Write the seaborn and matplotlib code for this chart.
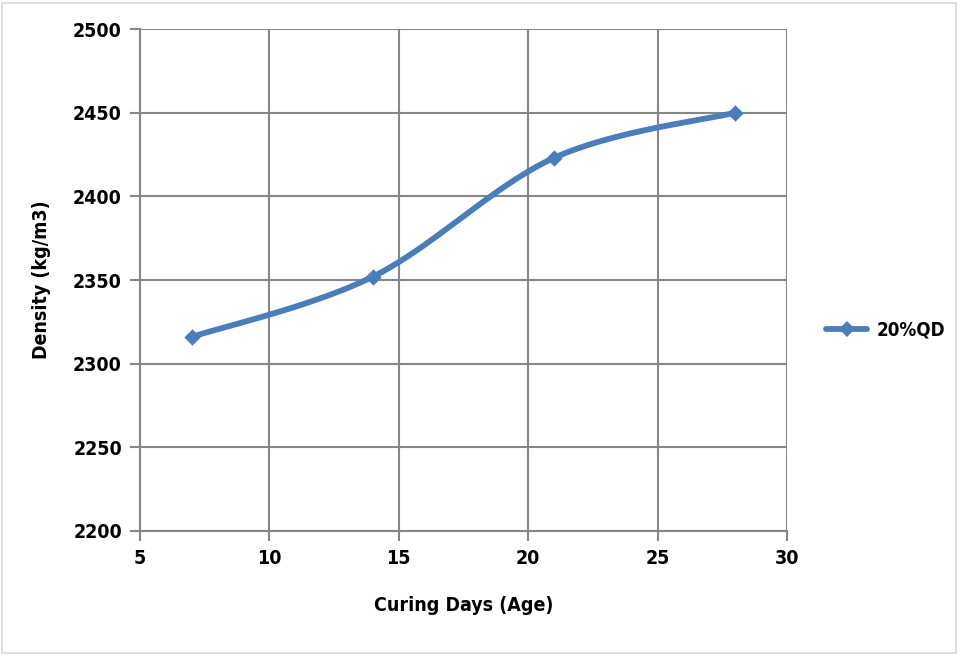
import numpy as np
import pandas as pd
import matplotlib
matplotlib.use("Agg")
import matplotlib.pyplot as plt
import matplotlib.patches as mpatches
from matplotlib.lines import Line2D
import seaborn as sns
from matplotlib import font_manager

# Data
curing_days = [7, 14, 21, 28]
density = [2316, 2352, 2423, 2450]
series_name = "20%QD"
x_ticks = [5, 10, 15, 20, 25, 30]
y_ticks = [2200, 2250, 2300, 2350, 2400, 2450, 2500]

sns.set_theme(style="white")

# Prefer a condensed bold face if one is available
cond = [f for f in font_manager.fontManager.ttflist
        if f.stretch in ("condensed", "semi-condensed", 500 - 125) or "Condensed" in f.fname
        or "Narrow" in f.fname]
cond_bold = [f for f in cond if "Bold" in f.fname and "Oblique" not in f.fname and "Italic" not in f.fname]
if cond_bold:
    FONT = font_manager.FontProperties(fname=cond_bold[0].fname)
    SIZE = 14
else:
    FONT = font_manager.FontProperties(family="DejaVu Sans", weight="bold")
    SIZE = 12.5
FONT.set_size(SIZE)
LEG_FONT = FONT.copy()
LEG_FONT.set_size(SIZE - 0.5)

BLUE = "#4a7ebb"
GRID = "#878787"

def smooth_curve(xs, ys, n=60):
    """Cubic Bezier segments through the points (spreadsheet-style smoothing)."""
    p = np.column_stack([xs, ys]).astype(float)
    pts = [p[0]] + list(p) + [p[-1]]
    out = []
    for i in range(1, len(pts) - 2):
        p0, p1, p2, p3 = pts[i - 1], pts[i], pts[i + 1], pts[i + 2]
        c1 = p1 + (p2 - p0) / 6.0
        c2 = p2 - (p3 - p1) / 6.0
        t = np.linspace(0, 1, n)[:, None]
        seg = ((1 - t) ** 3) * p1 + 3 * ((1 - t) ** 2) * t * c1 + 3 * (1 - t) * t ** 2 * c2 + t ** 3 * p2
        out.append(seg if i == 1 else seg[1:])
    return np.vstack(out)

curve = smooth_curve(curing_days, density)
curve_df = pd.DataFrame({"x": curve[:, 0], "y": curve[:, 1]})
pts_df = pd.DataFrame({"Curing Days (Age)": curing_days, "Density (kg/m3)": density})

fig = plt.figure(figsize=(9.59, 6.55), dpi=100)
ax = fig.add_axes([140 / 959, 1 - 531 / 655, (787 - 140) / 959, (531 - 29) / 655])

sns.lineplot(data=curve_df, x="x", y="y", sort=False, ax=ax, color=BLUE,
             linewidth=4.2, solid_capstyle="round", zorder=3)
sns.scatterplot(data=pts_df, x="Curing Days (Age)", y="Density (kg/m3)", ax=ax,
                marker="D", s=70, color=BLUE, edgecolor=BLUE, linewidth=0, zorder=4)

ax.set_xlim(5, 30)
ax.set_ylim(2200, 2500)
ax.set_xticks(x_ticks)
ax.set_yticks(y_ticks)
ax.grid(True, color=GRID, linewidth=1.5)
ax.set_axisbelow(True)
for sp in ax.spines.values():
    sp.set_visible(False)
for side in ("left", "bottom"):
    ax.spines[side].set_visible(True)
    ax.spines[side].set_color(GRID)
    ax.spines[side].set_linewidth(1.5)
ax.tick_params(axis="both", which="major", direction="out", length=7, width=1.5,
               color=GRID, pad=6, left=True, bottom=True)
ax.set_xticklabels([str(v) for v in x_ticks], fontproperties=FONT, color="black")
ax.set_yticklabels([str(v) for v in y_ticks], fontproperties=FONT, color="black")

ax.set_xlabel("Curing Days (Age)", fontproperties=FONT, color="black", labelpad=20)
ax.set_ylabel("Density (kg/m3)", fontproperties=FONT, color="black", labelpad=16)

handle = Line2D([0], [0], color=BLUE, linewidth=4.2, marker="D", markersize=8,
                markeredgewidth=0, markerfacecolor=BLUE)
leg = fig.legend([handle], [series_name], loc="center left",
                 bbox_to_anchor=(809 / 959, 1 - 330 / 655),
                 frameon=False, handlelength=2.2, handletextpad=0.5, prop=LEG_FONT)
for t in leg.get_texts():
    t.set_color("black")

fig.patches.append(mpatches.Rectangle((2 / 959, 2 / 655), 954 / 959, 650 / 655,
                                      transform=fig.transFigure, fill=False,
                                      edgecolor="#d9d9d9", linewidth=1.2))

fig.savefig("out.png", dpi=100, facecolor="white")
